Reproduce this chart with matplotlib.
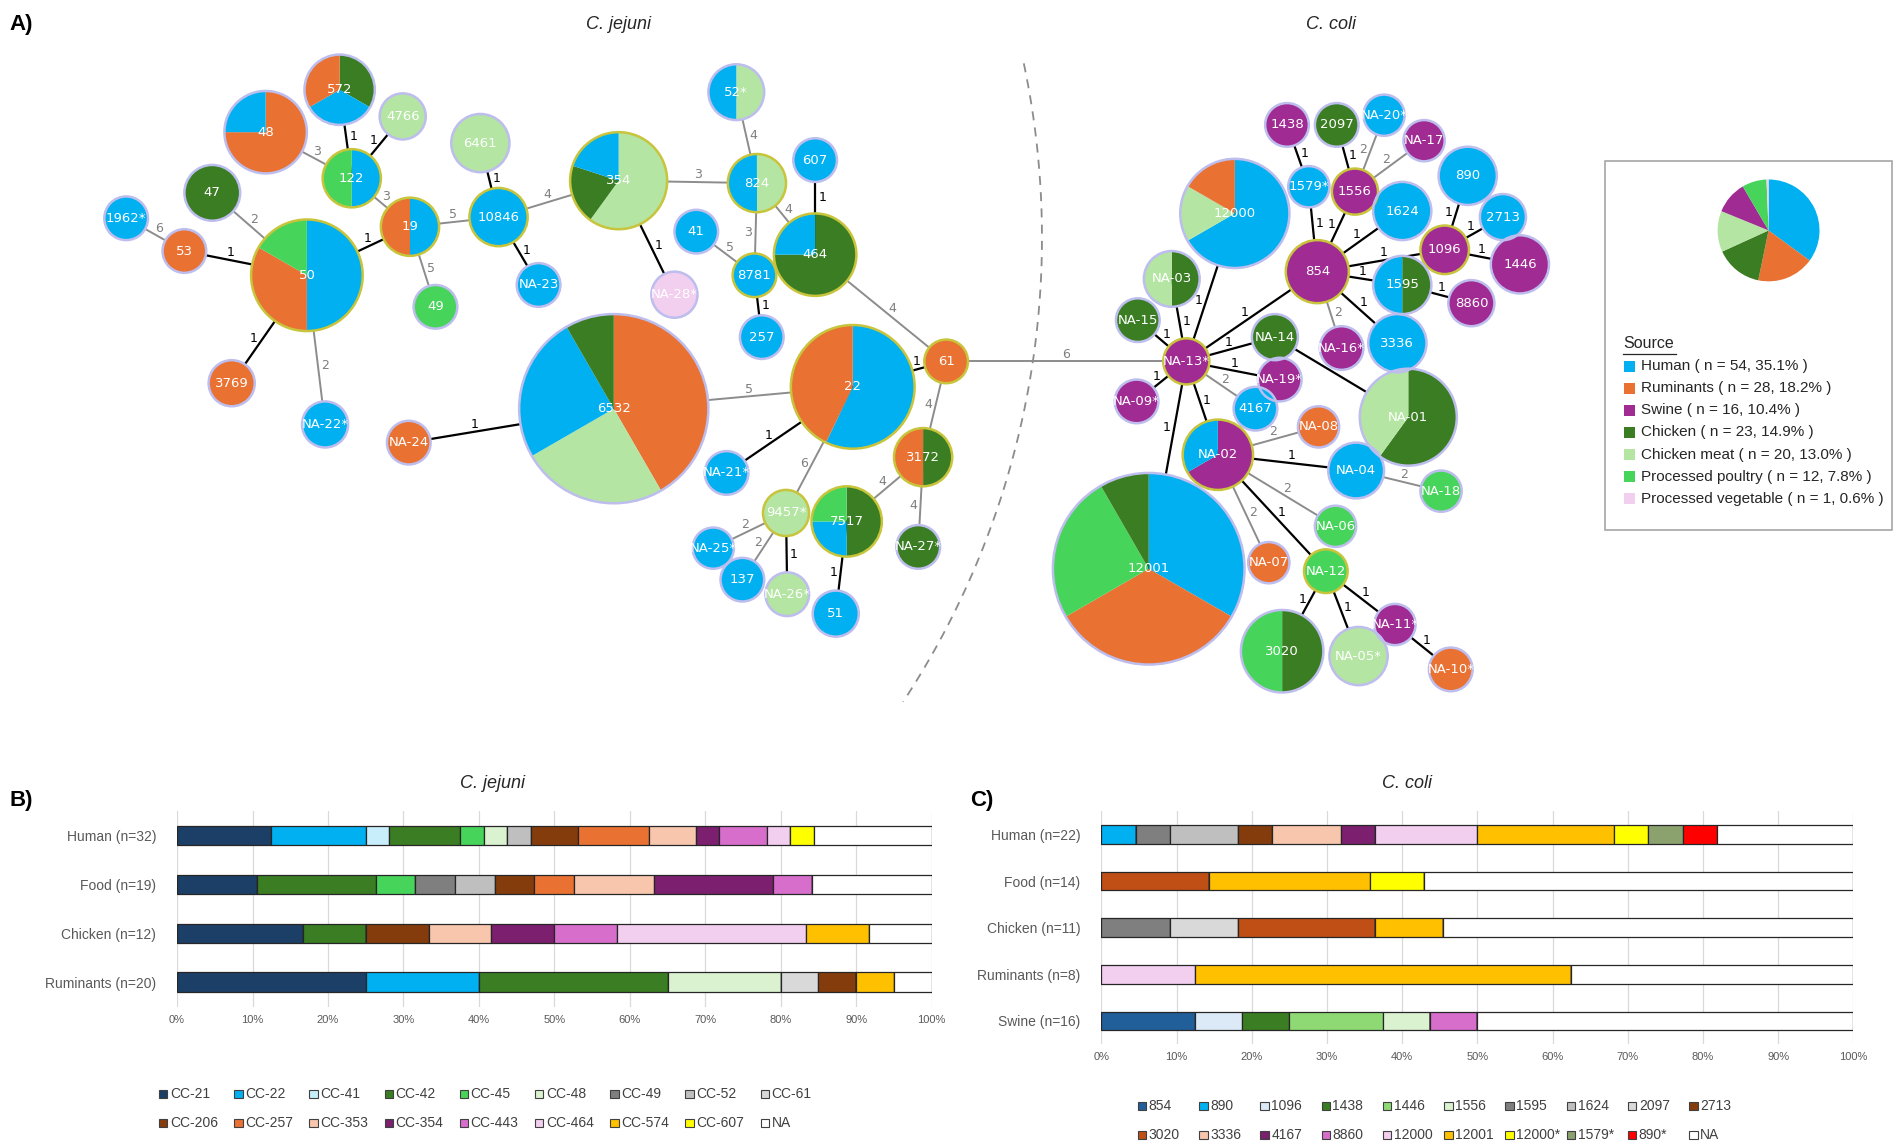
import numpy as np
import matplotlib
matplotlib.use("Agg")
import matplotlib.pyplot as plt
from matplotlib.patches import Circle, Wedge, Rectangle

plt.rcParams['font.family'] = ['Liberation Sans', 'DejaVu Sans']

# layout units of the drawing (figure is 1902x1146 px)
W, H = 1568, 945

# ---------------- panel A: sources ----------------
src_code = ["H", "R", "S", "C", "M", "P", "V"]
src_label = ["Human", "Ruminants", "Swine", "Chicken", "Chicken meat",
             "Processed poultry", "Processed vegetable"]
src_n = [54, 28, 16, 23, 20, 12, 1]
src_pct = [35.1, 18.2, 10.4, 14.9, 13.0, 7.8, 0.6]
src_color = ["#00B0F0", "#E97132", "#A02B93", "#3A7D22", "#B4E5A2",
             "#47D45A", "#F2CEEF"]
pie_order = ["H", "R", "C", "M", "S", "P", "V"]

# ---------------- panel A: MST nodes ----------------
# isolates listed clockwise from 12 o'clock, one letter per isolate
node_id = ["1962*", "53", "47", "48", "572", "4766", "122", "19", "50", "3769",
           "NA-22*", "6461", "10846", "49", "NA-23", "354", "NA-28*", "52*", "824",
           "607", "41", "8781", "464", "257", "6532", "NA-24", "22", "61", "3172",
           "NA-27*", "NA-21*", "9457*", "7517", "NA-25*", "137", "NA-26*", "51",
           "12000", "1438", "2097", "NA-20*", "NA-17", "1579*", "1556", "890",
           "2713", "1624", "1096", "1446", "854", "1595", "8860", "3336", "NA-03",
           "NA-15", "NA-14", "NA-13*", "NA-16*", "NA-19*", "NA-09*", "4167",
           "NA-01", "NA-02", "NA-08", "NA-04", "NA-18", "NA-06", "NA-07", "NA-12",
           "12001", "3020", "NA-05*", "NA-11*", "NA-10*"]
node_x = [104, 152, 175, 219, 280, 332, 290, 338, 253, 191,
          268, 396, 411, 359, 444, 510, 556, 607, 624,
          672, 574, 622, 672, 628, 506, 337, 703, 780, 761,
          757, 599, 648, 698, 588, 612, 649, 689,
          1018, 1061, 1102, 1141, 1174, 1079, 1117, 1210,
          1239, 1156, 1191, 1253, 1086, 1156, 1213, 1152, 966,
          938, 1051, 978, 1106, 1055, 937, 1035,
          1161, 1004, 1087, 1118, 1188, 1101, 1046, 1093,
          947, 1057, 1120, 1150, 1196]
node_y = [180, 207, 159, 109, 74, 96, 147, 187, 227, 316,
          350, 118, 179, 253, 235, 149, 243, 76, 151,
          132, 191, 227, 210, 278, 337, 365, 319, 298, 377,
          451, 390, 423, 430, 452, 478, 490, 506,
          176, 103, 103, 95, 116, 154, 158, 145,
          179, 174, 206, 218, 224, 235, 250, 283, 230,
          264, 278, 298, 287, 313, 331, 337,
          344, 375, 352, 388, 405, 434, 464, 471,
          469, 537, 541, 515, 552]
node_r = [18, 18, 23, 34, 29, 19, 24, 24, 46, 19,
          19, 24, 24, 18, 18, 40, 19, 23, 24,
          18, 18, 18, 34, 18, 78, 18, 51, 18, 24,
          18, 18, 19, 29, 17, 18, 18, 19,
          45, 18, 18, 17, 17, 17, 19, 24,
          19, 24, 20, 24, 26, 24, 19, 24, 23,
          18, 19, 19, 18, 18, 18, 18,
          40, 29, 17, 23, 17, 17, 17, 18,
          79, 34, 24, 17, 18]
node_iso = ["H", "R", "C", "RRRH", "CHR", "M", "HP", "HR", "HHHRRP", "R",
            "H", "MM", "HH", "P", "H", "MMMCH", "V", "MH", "MH",
            "H", "H", "H", "CCCH", "H", "RRRRRMMMHHHC", "R", "HHHHRRR", "R", "CR",
            "C", "H", "M", "CCHP", "H", "H", "M", "H",
            "HHHHMR", "S", "C", "H", "S", "H", "S", "HH",
            "H", "HH", "S", "SS", "SS", "CH", "S", "HH", "CM",
            "C", "C", "S", "S", "S", "S", "H",
            "CCCMM", "SSH", "R", "H", "P", "P", "R", "P",
            "HHHHRRRRPPPC", "CCPP", "M", "S", "R"]
node_ring = ["122", "19", "50", "10846", "354", "824", "8781", "464", "22", "61",
             "3172", "9457*", "7517", "1556", "1096", "854", "NA-13*", "NA-02", "NA-12"]

# MST edges (allelic distance)
edge_a = ["1962*", "53", "47", "50", "50", "50", "48", "572", "4766", "122",
          "19", "19", "10846", "10846", "10846", "354", "354", "824", "824", "824",
          "8781", "8781", "464", "464", "6532", "6532", "22", "22", "22", "61",
          "3172", "3172", "7517", "9457*", "9457*", "9457*", "61",
          "NA-13*", "NA-13*", "NA-13*", "NA-13*", "NA-13*", "NA-13*", "NA-13*",
          "NA-13*", "NA-13*", "NA-13*", "854", "854", "854", "854", "854", "854",
          "854", "1579*", "1556", "1556", "1556", "1096", "1096", "1096", "1595",
          "NA-14", "NA-02", "NA-02", "NA-04", "NA-02", "NA-02", "NA-02", "NA-12",
          "NA-12", "NA-12", "NA-11*"]
edge_b = ["53", "50", "50", "19", "3769", "NA-22*", "122", "122", "122", "19",
          "10846", "49", "6461", "NA-23", "354", "824", "NA-28*", "52*", "8781", "464",
          "41", "257", "607", "61", "22", "NA-24", "NA-21*", "9457*", "61", "3172",
          "NA-27*", "7517", "51", "NA-25*", "137", "NA-26*", "NA-13*",
          "12000", "NA-03", "NA-15", "854", "NA-14", "NA-19*", "4167",
          "NA-09*", "NA-02", "12001", "1579*", "1556", "1624", "1595", "1096", "3336",
          "NA-16*", "1438", "2097", "NA-20*", "NA-17", "890", "2713", "1446", "8860",
          "NA-01", "NA-08", "NA-04", "NA-18", "NA-06", "NA-12", "NA-07", "3020",
          "NA-05*", "NA-11*", "NA-10*"]
edge_d = [6, 1, 2, 1, 1, 2, 3, 1, 1, 3,
          5, 5, 1, 1, 4, 3, 1, 4, 3, 4,
          5, 1, 1, 4, 5, 1, 1, 6, 1, 4,
          4, 4, 1, 2, 2, 1, 6,
          1, 1, 1, 1, 1, 1, 2,
          1, 1, 1, 1, 1, 1, 1, 1, 1,
          2, 1, 1, 2, 2, 1, 1, 1, 1,
          1, 2, 1, 2, 2, 1, 2, 1,
          1, 1, 1]

# ---------------- panel B: C. jejuni clonal complexes ----------------
b_groups = ["Human (n=32)", "Food (n=19)", "Chicken (n=12)", "Ruminants (n=20)"]
b_n = [32, 19, 12, 20]
cc_labels = ["CC-21", "CC-22", "CC-41", "CC-42", "CC-45", "CC-48", "CC-49", "CC-52",
             "CC-61", "CC-206", "CC-257", "CC-353", "CC-354", "CC-443", "CC-464",
             "CC-574", "CC-607", "NA"]
cc_colors = ["#1B3F66", "#00B0F0", "#C9EEFB", "#3A7D22", "#47D45A", "#DAF2D0",
             "#7F7F7F", "#BFBFBF", "#D9D9D9", "#843C0C", "#E97132", "#F7C6AC",
             "#7B1F6E", "#D86ECC", "#F2CEEF", "#FFC000", "#FFFF00", "#FFFFFF"]
cc_counts = [[4, 2, 2, 5], [4, 0, 0, 3], [1, 0, 0, 0], [3, 3, 1, 5], [1, 1, 0, 0],
             [1, 0, 0, 3], [0, 1, 0, 0], [1, 1, 0, 0], [0, 0, 0, 1], [2, 1, 1, 1],
             [3, 1, 0, 0], [2, 2, 1, 0], [1, 3, 1, 0], [2, 1, 1, 0], [1, 0, 3, 0],
             [0, 0, 1, 1], [1, 0, 0, 0], [5, 3, 1, 1]]

# ---------------- panel C: C. coli sequence types ----------------
c_groups = ["Human (n=22)", "Food (n=14)", "Chicken (n=11)", "Ruminants (n=8)",
            "Swine (n=16)"]
c_n = [22, 14, 11, 8, 16]
st_labels = ["854", "890", "1096", "1438", "1446", "1556", "1595", "1624", "2097",
             "2713", "3020", "3336", "4167", "8860", "12000", "12001", "12000*",
             "1579*", "890*", "NA"]
st_colors = ["#215F9A", "#00B0F0", "#DCEAF7", "#3A7D22", "#8ED973", "#DAF2D0",
             "#7F7F7F", "#BFBFBF", "#D9D9D9", "#843C0C", "#C04F15", "#F7C6AC",
             "#7B1F6E", "#D86ECC", "#F2CEEF", "#FFC000", "#FFFF00", "#8BA26F",
             "#FF0000", "#FFFFFF"]
st_counts = [[0, 0, 0, 0, 2], [1, 0, 0, 0, 0], [0, 0, 0, 0, 1], [0, 0, 0, 0, 1],
             [0, 0, 0, 0, 2], [0, 0, 0, 0, 1], [1, 0, 1, 0, 0], [2, 0, 0, 0, 0],
             [0, 0, 1, 0, 0], [1, 0, 0, 0, 0], [0, 2, 2, 0, 0], [2, 0, 0, 0, 0],
             [1, 0, 0, 0, 0], [0, 0, 0, 0, 1], [3, 0, 0, 1, 0], [4, 3, 1, 4, 0],
             [1, 1, 0, 0, 0], [1, 0, 0, 0, 0], [1, 0, 0, 0, 0], [4, 8, 6, 3, 8]]

# ============================================================
fig = plt.figure(figsize=(19.02, 11.46), dpi=100)
axA = fig.add_axes([0, 0, 1, 1])
axA.set_xlim(0, W)
axA.set_ylim(H, 0)
axA.axis("off")

col = dict(zip(src_code, src_color))
pos = {n: (x, y, r) for n, x, y, r in zip(node_id, node_x, node_y, node_r)}
ring_col = "#C8C43C"
lav_col = "#BDBDEE"

# separator between species
arc_c, arc_r = (162, 196), 697
t = np.radians(np.linspace(-11.9, 33.3, 200))
axA.plot(arc_c[0] + arc_r * np.cos(t), arc_c[1] + arc_r * np.sin(t),
         ls=(0, (5, 4)), color="#8C8C8C", lw=1.3, zorder=0)

# edges
for a, b, d in zip(edge_a, edge_b, edge_d):
    xa, ya, ra = pos[a]
    xb, yb, rb = pos[b]
    c = "black" if d == 1 else "#8C8C8C"
    axA.plot([xa, xb], [ya, yb], color=c, lw=1.6 if d == 1 else 1.4, zorder=1)
    L = np.hypot(xb - xa, yb - ya)
    ux, uy = (xb - xa) / L, (yb - ya) / L
    s = (ra + (L - rb)) / 2
    mx, my = xa + ux * s, ya + uy * s
    nx, ny = -uy, ux
    if ny > 0:
        nx, ny = -nx, -ny
    axA.text(mx + nx * 6, my + ny * 6, str(d), color=c if d == 1 else "#7F7F7F",
             fontsize=9, family="DejaVu Sans", ha="center", va="center", zorder=2)

# nodes
for nid, x, y, r, iso in zip(node_id, node_x, node_y, node_r, node_iso):
    n = len(iso)
    groups = []
    for ch in iso:
        if groups and groups[-1][0] == ch:
            groups[-1][1] += 1
        else:
            groups.append([ch, 1])
    start = 0
    for ch, k in groups:
        if len(groups) == 1:
            axA.add_patch(Circle((x, y), r, fc=col[ch], ec="none", zorder=3))
        else:
            axA.add_patch(Wedge((x, y), r, -90 + 360 * start / n,
                                -90 + 360 * (start + k) / n, fc=col[ch], ec="none", zorder=3))
        start += k
    axA.add_patch(Circle((x, y), r, fc="none", lw=1.8, zorder=4,
                         ec=ring_col if nid in node_ring else lav_col))
    axA.text(x, y, nid, color="white", fontsize=9.5, family="DejaVu Sans",
             ha="center", va="center", zorder=5)

# source legend box
axA.add_patch(Rectangle((1323, 133), 237, 304, fc="white", ec="#A6A6A6", lw=1.2, zorder=2))
vals = [src_n[src_code.index(c)] for c in pie_order]
tot = sum(vals)
start = 0
for c, v in zip(pie_order, vals):
    axA.add_patch(Wedge((1458, 190), 42, -90 + 360 * start / tot,
                        -90 + 360 * (start + v) / tot, fc=col[c], ec="none", zorder=3))
    start += v
axA.text(1338, 283, "Source", fontsize=11.5, color="#262626", va="center", zorder=3)
axA.plot([1338, 1382], [292, 292], color="#262626", lw=0.9, zorder=3)
for i, (lab, n, p, c) in enumerate(zip(src_label, src_n, src_pct, src_color)):
    yy = 302 + i * 18.2
    axA.add_patch(Rectangle((1339, yy - 4.5), 9, 9, fc=c, ec="none", zorder=3))
    axA.text(1353, yy, f"{lab} ( n = {n}, {p}% )", fontsize=11, color="#262626",
             va="center", zorder=3)

# panel letters and titles
for txt, x, y in [("A)", 8, 20), ("B)", 8, 660), ("C)", 800, 660)]:
    axA.text(x, y, txt, fontsize=16, fontweight="bold", va="center")
for txt, x, y in [("C. jejuni", 510, 20), ("C. coli", 1097, 20),
                  ("C. jejuni", 406, 646), ("C. coli", 1160, 646)]:
    axA.text(x, y, txt, fontsize=13, style="italic", ha="center", va="center", color="#262626")


def stacked(rect, groups, totals, labels, colors, counts):
    ax = fig.add_axes(rect)
    ax.set_facecolor("none")
    yy = np.arange(len(groups))
    left = np.zeros(len(groups))
    for lab, c, cnt in zip(labels, colors, counts):
        w = np.array(cnt) / np.array(totals) * 100
        ax.barh(yy, w, left=left, height=0.4, color=c, edgecolor="#262626", lw=0.9, zorder=3)
        left += w
    ax.set_xlim(0, 100)
    ax.set_ylim(len(groups) - 0.5, -0.5)
    ax.set_xticks(np.arange(0, 101, 10))
    ax.set_xticklabels([f"{v}%" for v in range(0, 101, 10)], fontsize=8, color="#595959")
    ax.set_yticks(yy)
    ax.set_yticklabels(groups, fontsize=10, color="#595959",
                       family=["Liberation Sans Narrow", "Liberation Sans", "DejaVu Sans"])
    ax.tick_params(axis="y", length=0, pad=15)
    ax.tick_params(axis="x", length=0, pad=6)
    ax.grid(axis="x", color="#D9D9D9", lw=0.9, zorder=0)
    for s in ax.spines.values():
        s.set_visible(False)
    return ax


stacked([146 / W, 1 - 830 / H, (768 - 146) / W, 161 / H], b_groups, b_n,
        cc_labels, cc_colors, cc_counts)
stacked([908 / W, 1 - 861 / H, (1528 - 908) / W, 192 / H], c_groups, c_n,
        st_labels, st_colors, st_counts)

# legends below the bar panels
for i, (lab, c) in enumerate(zip(cc_labels, cc_colors)):
    x = 131 + (i % 9) * 62
    y = 902 + (i // 9) * 24
    axA.add_patch(Rectangle((x, y - 3.5), 7, 7, fc=c, ec="#404040", lw=0.8))
    axA.text(x + 9, y, lab, fontsize=10, color="#404040", va="center",
             family=["Liberation Sans Narrow", "Liberation Sans", "DejaVu Sans"])
for i, (lab, c) in enumerate(zip(st_labels, st_colors)):
    x = 938 + (i % 10) * 50.5
    y = 912 + (i // 10) * 24
    axA.add_patch(Rectangle((x, y - 3.5), 7, 7, fc=c, ec="#404040", lw=0.8))
    axA.text(x + 9, y, lab, fontsize=10, color="#404040", va="center",
             family=["Liberation Sans Narrow", "Liberation Sans", "DejaVu Sans"])

fig.savefig("out.png", dpi=100)
